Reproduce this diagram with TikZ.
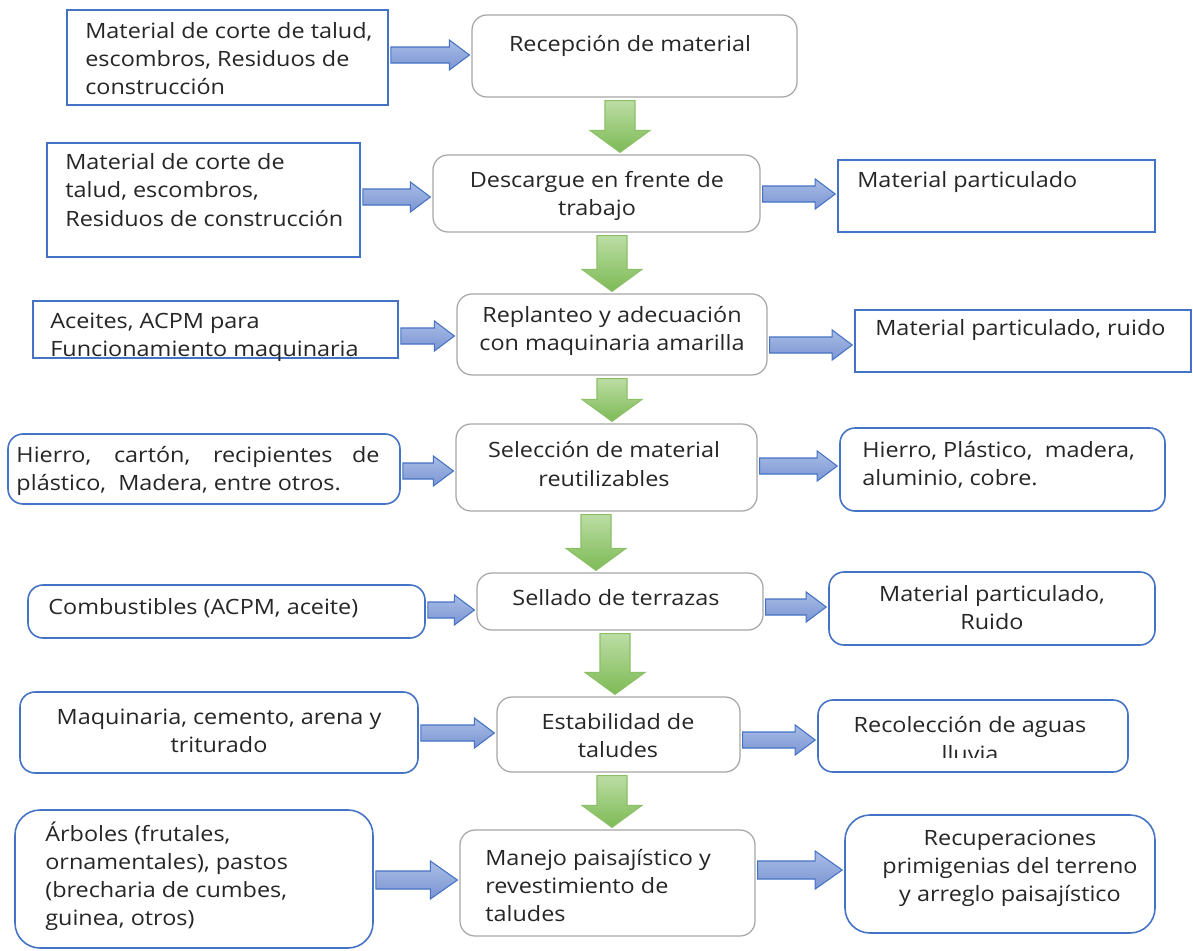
\documentclass[tikz,border=0pt]{standalone}
\usepackage{fontspec}
\setmainfont{Open Sans}[FakeStretch=1.11]
\usetikzlibrary{calc, positioning}
\definecolor{bordeazul}{HTML}{4472C4}
\definecolor{bordegris}{HTML}{A6A6A6}
\definecolor{azulclaro}{HTML}{A9BCE6}
\definecolor{azulmedio}{HTML}{7A95D2}
\definecolor{verdeclaro}{HTML}{BCDDA4}
\definecolor{verdemedio}{HTML}{7DBA55}
\definecolor{bordeverde}{HTML}{8CC068}
\definecolor{textogris}{HTML}{262626}

% tamanos de las flechas (px)
\newcommand{\cuerpo}{8}
\newcommand{\cabeza}{15}
\newcommand{\punta}{20}

% flecha azul horizontal: [desplazamiento vertical]{desde}{hasta}
\newcommand{\flecha}[3][0]{%
  \path ($(#2.east)+(2,#1)$) coordinate (s) ($(#3.west)+(-2,0)$) coordinate (t)
        (t |- s) coordinate (e);
  \draw[flechaazul] ($(s)+(0,-\cuerpo)$) -- ($(e)+(-\punta,-\cuerpo)$)
    -- ($(e)+(-\punta,-\cabeza)$) -- (e) -- ($(e)+(-\punta,\cabeza)$)
    -- ($(e)+(-\punta,\cuerpo)$) -- ($(s)+(0,\cuerpo)$) -- cycle;}

% flecha verde vertical: [desplazamiento horizontal]{desde}{hasta}
\newcommand{\bajada}[3][0]{%
  \path ($(#2.south)+(#1,3)$) coordinate (s) ($(#3.north)+(0,-2)$) coordinate (t)
        (s |- t) coordinate (e);
  \draw[flechaverde] ($(s)+(-15,0)$) -- ($(e)+(-15,-22)$) -- ($(e)+(-30,-22)$)
    -- (e) -- ($(e)+(30,-22)$) -- ($(e)+(15,-22)$) -- ($(s)+(15,0)$) -- cycle;}

\begin{document}
\begin{tikzpicture}[x=0.02cm, y=-0.02cm,
    caja/.style={draw=bordeazul, line width=0.9pt, fill=white},
    cajar/.style={caja, rounded corners=#1},
    cajar/.default=0.3cm,
    proceso/.style={draw=bordegris, line width=0.7pt, rounded corners=0.3cm, fill=white},
    tam/.style 2 args={minimum width=#1*0.02cm, minimum height=#2*0.02cm, inner sep=0pt},
    texto/.style={inner sep=0pt, font=\fontsize{12}{16}\selectfont, text=textogris, align=left},
    textoc/.style={texto, align=center},
    flechaazul/.style={draw=bordeazul, line width=0.6pt, top color=azulclaro, bottom color=azulmedio},
    flechaverde/.style={draw=bordeverde, line width=0.6pt, top color=verdeclaro, bottom color=verdemedio}
]
\fill[white] (0,0) rectangle (1193,950);
\useasboundingbox (0,0) rectangle (1193,950);

% cajas
\node[caja, tam={321}{95}]     (mat1)    at (227.5,57.5) {};
\node[proceso, tam={325}{82}]  (recep)   at (634.5,56) {};
\node[caja, tam={313}{114}]    (mat2)    at (203.5,200) {};
\node[proceso, tam={327}{77}]  (desc)    at (596.5,193.5) {};
\node[caja, tam={317}{72}]     (part1)   at (996.5,196) {};
\node[caja, tam={365}{57}]     (aceit)   at (215.5,329.5) {};
\node[proceso, tam={310}{81}]  (replan)  at (612,334.5) {};
\node[caja, tam={336}{62}]     (part2)   at (1023,341) {};
\node[cajar, tam={392}{70}]    (hierro)  at (204,469) {};
\node[proceso, tam={301}{87}]  (selec)   at (606.5,467.5) {};
\node[cajar, tam={325}{83}]    (reutil)  at (1002.5,469.5) {};
\node[cajar, tam={397}{53}]    (combus)  at (226.5,611.5) {};
\node[proceso, tam={286}{57}]  (sellado) at (620,601.5) {};
\node[cajar, tam={326}{73}]    (part3)   at (992,608.5) {};
\node[cajar, tam={398}{81}]    (maqui)   at (219,732.5) {};
\node[proceso, tam={243}{75}]  (estab)   at (618.5,734.5) {};
\node[cajar, tam={310}{72}]    (aguas)   at (973,736) {};
\node[cajar=0.5cm, tam={358}{138}] (arbol) at (194,879) {};
\node[proceso, tam={295}{106}] (manejo)  at (607.5,883) {};
\node[cajar=0.5cm, tam={310}{118}] (recup) at (1000,874) {};

% textos
\node[texto, anchor=west]  at (85,58.5)  {Material de corte de talud,\\escombros, Residuos de\\construcción};
\node[textoc]              at (630,46)   {Recepción de material};
\node[texto, anchor=west]  at (65,190)   {Material de corte de\\talud, escombros,\\Residuos de construcción};
\node[textoc]              at (597,196)  {Descargue en frente de\\trabajo};
\node[texto, anchor=west]  at (857,182)  {Material particulado};
\node[texto, anchor=west]  at (50,337)   {Aceites, ACPM para\\Funcionamiento maquinaria};
\node[textoc]              at (612,331)  {Replanteo y adecuación\\con maquinaria amarilla};
\node[texto, anchor=west]  at (875,330)  {Material particulado, ruido};
\node[texto, text width=363*0.02cm, align=justify] at (198,471)
  {Hierro, cartón, recipientes de\linebreak plástico, \ Madera, entre otros.};
\node[textoc]              at (604,464)  {Selección de material\\reutilizables};
\node[texto, anchor=west]  at (862,465)  {Hierro, Plástico, \ madera,\\aluminio, cobre.};
\node[texto, anchor=west]  at (48,608)   {Combustibles (ACPM, aceite)};
\node[textoc]              at (616,598)  {Sellado de terrazas};
\node[textoc]              at (992,608)  {Material particulado,\\Ruido};
\node[textoc]              at (219,731)  {Maquinaria, cemento, arena y\\triturado};
\node[textoc]              at (618,736)  {Estabilidad de\\taludes};
\begin{scope}
  \clip (818,700) rectangle (1128,757);
  \node[textoc]            at (970,739)  {Recolección de aguas\\lluvia};
\end{scope}
\node[texto, anchor=west]  at (45,876.5) {Árboles (frutales,\\ornamentales), pastos\\(brecharia de cumbes,\\guinea, otros)};
\node[texto, anchor=west]  at (485,885.5) {Manejo paisajístico y\\revestimiento de\\taludes};
\node[textoc]              at (1010,868) {Recuperaciones\\primigenias del terreno\\y arreglo paisajístico};

% flechas verdes
\bajada[-14.5]{recep}{desc}
\bajada[15.5]{desc}{replan}
\bajada{replan}{selec}
\bajada[-10.5]{selec}{sellado}
\bajada[-5]{sellado}{estab}
\bajada[-6.5]{estab}{manejo}

% flechas azules
\flecha[-2.5]{mat1}{recep}
\flecha[-3]{mat2}{desc}
\flecha[0.5]{desc}{part1}
\flecha[6.5]{aceit}{replan}
\flecha[10.5]{replan}{part2}
\flecha[2]{hierro}{selec}
\flecha[-1.5]{selec}{reutil}
\flecha[-1.5]{combus}{sellado}
\flecha[5.5]{sellado}{part3}
\flecha[0.5]{maqui}{estab}
\flecha[5.5]{estab}{aguas}
\renewcommand{\cuerpo}{9}
\renewcommand{\cabeza}{19}
\renewcommand{\punta}{27}
\flecha[1]{arbol}{manejo}
\flecha[-13]{manejo}{recup}
\end{tikzpicture}
\end{document}
